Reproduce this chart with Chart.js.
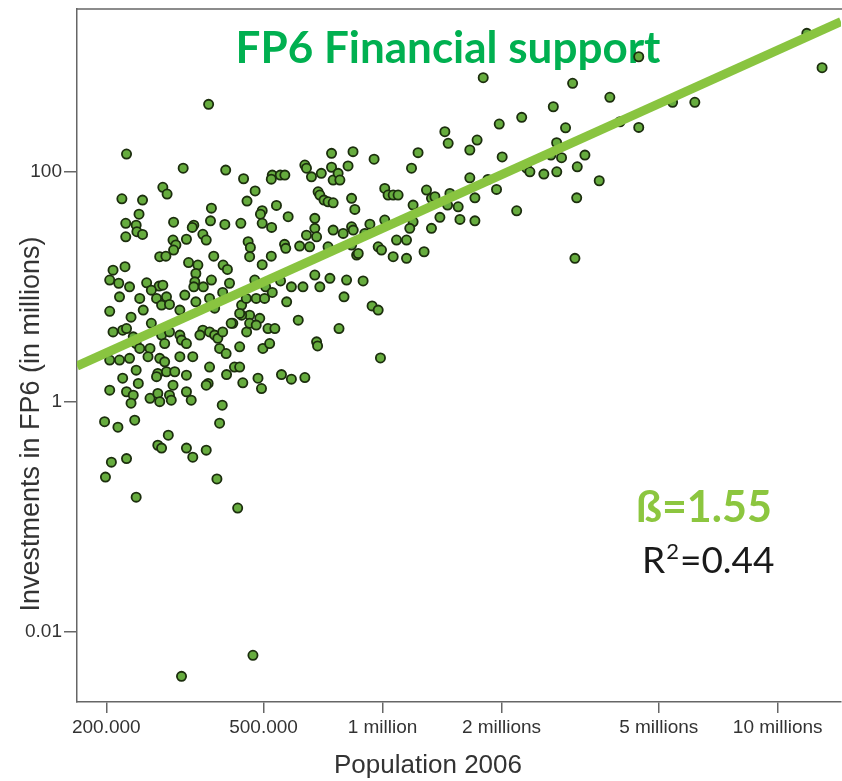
<!DOCTYPE html>
<html>
<head>
<meta charset="utf-8">
<script src="https://cdn.jsdelivr.net/npm/chart.js@4.4.1/dist/chart.umd.min.js"></script>
<style>
  html, body { margin: 0; padding: 0; background: #fff; }
  #wrap { width: 842px; height: 781px; }
</style>
</head>
<body>
<div id="wrap"><canvas id="chart" width="842" height="781"></canvas></div>
<script>
// population 2006, in thousands
const populationK = [
  225, 313, 401, 445, 526, 551, 523, 278, 285, 476,
  219, 247, 454, 369, 242, 496, 491, 539, 577, 224,
  238, 239, 247, 296, 333, 330, 367, 399, 438, 496,
  524, 224, 295, 300, 296, 319, 351, 358, 457, 463,
  461, 565, 569, 273, 283, 374, 523, 496, 323, 341,
  395, 405, 223, 208, 204, 215, 229, 253, 272, 278,
  337, 335, 333, 369, 352, 410, 475, 506, 552, 204,
  216, 243, 248, 260, 268, 284, 276, 289, 307, 316,
  337, 365, 376, 394, 440, 452, 461, 479, 503, 526,
  572, 489, 440, 418, 231, 208, 220, 225, 234, 238,
  260, 276, 289, 307, 310, 319, 351, 365, 376, 383,
  394, 345, 414, 435, 453, 461, 479, 513, 534, 387,
  402, 435, 498, 518, 204, 216, 229, 243, 258, 281,
  255, 273, 281, 307, 331, 238, 220, 241, 270, 268,
  284, 298, 319, 365, 362, 358, 403, 422, 435, 443,
  484, 494, 555, 204, 225, 234, 231, 258, 270, 273,
  289, 295, 292, 319, 328, 393, 198, 214, 236, 387,
  287, 270, 276, 319, 358, 206, 199, 225, 238, 331,
  381, 430, 310, 470,
  1438, 1466, 743, 842, 952, 1230, 636, 642, 661, 700,
  743, 750, 772, 780, 818, 1184, 566, 687, 694, 711,
  728, 750, 835, 851, 1013, 1033, 1064, 1095, 1195, 1292,
  1330, 1357, 1481, 1461, 1554, 674, 674, 642, 681, 750,
  795, 835, 843, 929, 902, 1013, 1195, 1172, 1330, 1397,
  1570, 617, 654, 728, 835, 860, 868, 975, 994, 1085,
  1150, 1064, 1150, 1274, 674, 736, 811, 893, 588, 629,
  694,
  799, 941, 975, 612, 776, 681, 685, 988, 588, 636,
  4450, 11850, 12950, 1798, 3027, 3760, 2705, 2250, 1974, 2905,
  5420, 6170, 3990, 4450, 1735, 1663, 2758, 2668, 2838, 3252,
  3110, 2008, 2315, 2360, 2560, 2760, 1663, 1848, 3535, 1943,
  1713, 3100, 2185, 1713, 3068,
  363
];

// investments in FP6, in millions
const investmentM = [
  142, 107, 103, 86.6, 93.2, 93.2, 85.9, 73, 63.8, 67.8,
  58, 56.5, 55.4, 48.1, 42.6, 45.7, 42.6, 50.8, 40.5, 35.5,
  34.2, 30.0, 28.4, 36.3, 34.2, 32.7, 37.3, 34.7, 35.5, 35.5,
  32.7, 27.1, 25.4, 23.0, 20.8, 25.8, 28.5, 25.4, 24.6, 21.9,
  18.2, 23.3, 21.5, 18.2, 18.4, 18.4, 18.4, 15.5, 16.2, 15.4,
  15.4, 14.1, 14.9, 13.9, 11.4, 10.7, 9.95, 10.8, 10.1, 10.3,
  13.0, 11.0, 9.95, 11.4, 9.95, 10.7, 11.4, 9.95, 11.2, 6.1,
  8.15, 7.9, 6.25, 9.32, 7.9, 8.15, 6.91, 7.0, 6.25, 8.44,
  7.37, 7.9, 6.5, 8.9, 6.91, 7.9, 5.65, 7.9, 7.9, 8.9,
  7.37, 5.3, 5.65, 4.8, 5.43, 4.04, 4.18, 4.32, 3.66, 3.2,
  4.8, 3.79, 4.04, 3.79, 3.43, 3.2, 4.18, 4.04, 3.79, 3.55,
  4.04, 3.79, 4.8, 5.85, 4.04, 4.8, 4.63, 4.32, 4.32, 2.9,
  2.62, 3.0, 2.9, 3.2, 2.3, 2.3, 2.38, 2.9, 2.9, 3.2,
  2.46, 2.38, 2.22, 2.46, 2.46, 1.88, 1.6, 1.44, 1.76, 1.65,
  1.82, 1.82, 1.7, 2.0, 1.44, 1.39, 1.72, 2.0, 2.0, 1.46,
  1.6, 1.3, 1.72, 1.26, 1.22, 1.14, 0.97, 1.07, 1.18, 1.0,
  1.14, 1.39, 1.03, 1.22, 1.03, 0.932, 0.67, 0.6, 0.69, 0.65,
  0.511, 0.418, 0.395, 0.395, 0.379, 0.298, 0.221, 0.32, 0.148, 0.329,
  0.213, 0.119, 0.0041, 0.00625,
  222, 176, 144, 149, 128, 146, 114, 107, 90, 96.5,
  109, 84.4, 96.5, 84.4, 112, 107, 93.2, 66.7, 62.5, 56.5,
  54.6, 53.5, 58.5, 46.9, 71.4, 62.5, 62.5, 62.5, 51.1, 69.1,
  58.5, 60.4, 64.6, 51.1, 49.4, 39.2, 32.1, 28.0, 27.1, 31.0,
  29.0, 33.1, 31.0, 34.9, 29.0, 37.9, 36.6, 32.1, 32.1, 40.0,
  38.4, 22.5, 22.2, 22.2, 23.0, 18.8, 19.4, 22.2, 20.8, 25.4,
  25.4, 18.2, 17.6, 20.1, 12.6, 11.8, 11.4, 11.2, 9.95, 9.95,
  9.95,
  8.15, 6.8, 6.25, 5.11, 4.32, 3.31, 3.05, 2.4, 1.57, 1.62,
  995, 1590, 799, 654, 585, 442, 366, 296, 259, 240,
  400, 400, 271, 242, 188, 154, 178, 139, 132, 139,
  110, 134, 107, 99.6, 95.1, 99.6, 88.3, 85.5, 83.2, 70.0,
  59.1, 59.1, 45.6, 37.3, 17.6,
  384
];

// fitted line (beta = 1.55), ends of the x range
const trendPop = [168600, 14460000];
const trendInvest = [2.04, 2010];

const xTicks = [200000, 500000, 1000000, 2000000, 5000000, 10000000];
const xTickLabels = ["200.000", "500.000", "1 million", "2 millions", "5 millions", "10 millions"];
const yTicks = [0.01, 1, 100];
const yTickLabels = ["0.01", "1", "100"];

const scatterData = populationK.map((p, i) => ({ x: p * 1000, y: investmentM[i] }));
const trendData = trendPop.map((p, i) => ({ x: p, y: trendInvest[i] }));

const axisColor = "#666";
const textColor = "#333";
const sans = "'Liberation Sans', Arial, sans-serif";
const roundFont = "Lato, 'Open Sans', sans-serif";

const decorations = {
  id: "decorations",
  beforeDatasetsDraw(chart) {
    const ctx = chart.ctx;
    const area = chart.chartArea;
    ctx.save();
    // top frame line
    ctx.strokeStyle = axisColor;
    ctx.lineWidth = 1.5;
    ctx.beginPath();
    ctx.moveTo(area.left, area.top);
    ctx.lineTo(chart.width, area.top);
    ctx.stroke();

    ctx.fillStyle = "#00b050";
    ctx.font = "bold 44px " + roundFont;
    ctx.textAlign = "center";
    ctx.textBaseline = "alphabetic";
    ctx.fillText("FP6 Financial support", 448, 63);
    ctx.restore();
  },
  afterDraw(chart) {
    const ctx = chart.ctx;
    ctx.save();
    ctx.fillStyle = textColor;
    ctx.font = "26px " + sans;
    ctx.textAlign = "center";
    ctx.textBaseline = "middle";
    ctx.fillText("Population 2006", 428, 766);

    ctx.save();
    ctx.translate(32, 424);
    ctx.rotate(-Math.PI / 2);
    ctx.font = "27px " + sans;
    ctx.fillText("Investments in FP6 (in millions)", 0, 0);
    ctx.restore();

    ctx.textAlign = "left";
    ctx.textBaseline = "alphabetic";
    ctx.fillStyle = "#8cc63f";
    ctx.font = "bold 43px " + roundFont;
    ctx.fillText("ß=1.55", 636, 522);

    ctx.fillStyle = "#1a1a1a";
    ctx.font = "37px " + roundFont;
    ctx.fillText("R", 642, 573);
    let x = 642 + ctx.measureText("R").width;
    ctx.font = "22px " + roundFont;
    ctx.fillText("2", x + 1, 559);
    x += ctx.measureText("2").width + 2;
    ctx.font = "37px " + roundFont;
    ctx.fillText("=0.44", x, 573);
    ctx.restore();
  }
};

new Chart(document.getElementById("chart"), {
  data: {
    datasets: [
      {
        type: "line",
        data: trendData,
        borderColor: "rgb(137,196,64)",
        borderWidth: 9,
        pointRadius: 0,
        fill: false,
        order: 0
      },
      {
        type: "scatter",
        data: scatterData,
        backgroundColor: "rgb(102,172,62)",
        borderColor: "#1c2e0e",
        borderWidth: 1.8,
        pointRadius: 4.6,
        order: 1
      }
    ]
  },
  options: {
    responsive: false,
    animation: false,
    devicePixelRatio: 1,
    layout: { autoPadding: false, padding: { top: 9, right: 1, left: 0, bottom: 0 } },
    plugins: { legend: { display: false }, tooltip: { enabled: false } },
    scales: {
      x: {
        type: "logarithmic",
        min: 168600,
        max: 14460000,
        afterBuildTicks: (axis) => { axis.ticks = xTicks.map(v => ({ value: v })); },
        afterFit: (axis) => {
          axis.height = 79;
          axis.paddingLeft = 0;
          axis.paddingRight = 0;
        },
        ticks: {
          autoSkip: false,
          maxRotation: 0,
          padding: 3,
          color: textColor,
          font: { family: sans, size: 19 },
          callback: (v) => xTickLabels[xTicks.indexOf(v)]
        },
        grid: { drawOnChartArea: false, tickLength: 11, color: axisColor, lineWidth: 1.5 },
        border: { color: axisColor, width: 1.5 }
      },
      y: {
        type: "logarithmic",
        min: 0.002453,
        max: 2588,
        afterBuildTicks: (axis) => { axis.ticks = yTicks.map(v => ({ value: v })); },
        afterFit: (axis) => {
          axis.width = 77;
          axis.paddingTop = 0;
          axis.paddingBottom = 0;
        },
        ticks: {
          autoSkip: false,
          padding: 2,
          color: textColor,
          font: { family: sans, size: 19 },
          callback: (v) => yTickLabels[yTicks.indexOf(v)]
        },
        grid: { drawOnChartArea: false, tickLength: 13, color: axisColor, lineWidth: 1.5 },
        border: { color: axisColor, width: 1.5 }
      }
    }
  },
  plugins: [decorations]
});
</script>
</body>
</html>
